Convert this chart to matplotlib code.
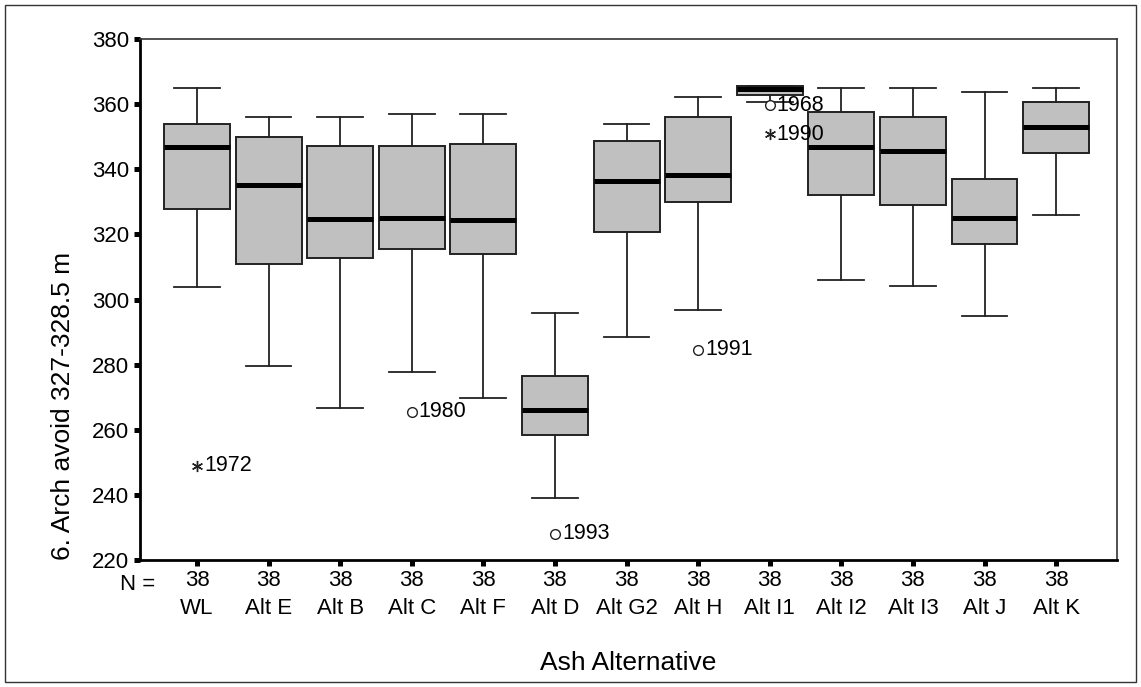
import numpy as np
import matplotlib.pyplot as plt
from matplotlib.patches import Rectangle

plt.rcParams['font.family'] = ['Liberation Sans', 'DejaVu Sans']

# groups along the x axis and the number of years in each
groups = ['WL', 'Alt E', 'Alt B', 'Alt C', 'Alt F', 'Alt D', 'Alt G2',
          'Alt H', 'Alt I1', 'Alt I2', 'Alt I3', 'Alt J', 'Alt K']
n_obs = [38, 38, 38, 38, 38, 38, 38, 38, 38, 38, 38, 38, 38]

# box statistics
whislo = [303.7, 279.6, 266.6, 277.8, 269.6, 239.0, 288.6, 296.7, 360.8, 306.0, 304.0, 295.0, 326.0]
q1     = [327.7, 311.0, 312.7, 315.6, 313.9, 258.5, 320.7, 329.8, 362.8, 332.0, 329.0, 317.0, 345.0]
med    = [346.8, 335.2, 324.8, 325.0, 324.4, 266.0, 336.5, 338.2, 364.7, 346.8, 345.6, 325.0, 352.9]
q3     = [353.9, 350.0, 347.1, 347.0, 347.8, 276.5, 348.8, 356.0, 365.5, 357.7, 356.0, 337.0, 360.7]
whishi = [365.0, 356.0, 356.0, 357.0, 357.0, 295.8, 353.9, 362.1, 365.5, 365.0, 365.0, 363.8, 365.0]

# outlying years: group index, value, year label, extreme (*) or not (o)
out_group = [0, 3, 5, 7, 8, 8]
out_value = [249.0, 265.6, 228.0, 284.5, 359.7, 350.8]
out_year  = ['1972', '1980', '1993', '1991', '1968', '1990']
out_extreme = [True, False, False, False, False, True]

fig = plt.figure(figsize=(11.41, 6.87), dpi=100)
W, H = 1141, 687
ax = fig.add_axes([140 / W, 1 - 560 / H, (1117 - 140) / W, (560 - 39) / H])

positions = np.arange(1, len(groups) + 1)
stats = []
for i in range(len(groups)):
    stats.append(dict(whislo=whislo[i], q1=q1[i], med=med[i], q3=q3[i],
                      whishi=whishi[i], fliers=[]))

ax.bxp(stats, positions=positions, widths=0.92, capwidths=0.64,
       patch_artist=True, showfliers=False,
       boxprops=dict(facecolor='#c0c0c0', edgecolor='#222222', linewidth=1.4),
       medianprops=dict(color='black', linewidth=3.6, solid_capstyle='butt'),
       whiskerprops=dict(color='#222222', linewidth=1.3),
       capprops=dict(color='#222222', linewidth=1.3))

# outliers with their year labels
for g, v, yr, ext in zip(out_group, out_value, out_year, out_extreme):
    x = positions[g]
    if ext:
        ax.plot(x, v, marker=(6, 2, 0), color='#222222', markersize=8, mew=1.0)
    else:
        ax.plot(x, v, marker='o', mfc='white', mec='#222222', markersize=7, mew=1.0)
    ax.annotate(yr, (x, v), xytext=(5, 0), textcoords='offset points',
                va='center', ha='left', fontsize=15.5)

ax.set_xlim(0.204, 13.85)
ax.set_ylim(220, 380)
ax.set_yticks(np.arange(220, 381, 20))
ax.tick_params(axis='y', labelsize=16, length=4, width=3.6, pad=4, direction='out')
ax.set_xticks(positions)
ax.set_xticklabels([f'{n}\n{g}' for n, g in zip(n_obs, groups)])
ax.tick_params(axis='x', labelsize=16, length=4, width=3.6, pad=3, direction='out')
plt.setp(ax.get_xticklabels(), linespacing=1.45)

for s in ['left', 'bottom']:
    ax.spines[s].set_linewidth(2.0)
    ax.spines[s].set_color('black')
for s in ['top', 'right']:
    ax.spines[s].set_linewidth(1.2)
    ax.spines[s].set_color('#333333')

ax.text(0.0154, -0.026, 'N =', transform=ax.transAxes, ha='right', va='top', fontsize=16)

fig.text(628 / W, 1 - 663 / H, 'Ash Alternative', ha='center', va='center', fontsize=19)
fig.text(63 / W, 1 - 406 / H, '6. Arch avoid 327-328.5 m', ha='center', va='center',
         rotation=90, fontsize=19)

# outer frame round the whole chart
fig.patches.append(Rectangle((5 / W, 5 / H), 1131 / W, 677 / H, transform=fig.transFigure,
                             fill=False, edgecolor='#333333', linewidth=1.0))

fig.savefig('out.png', dpi=100)
